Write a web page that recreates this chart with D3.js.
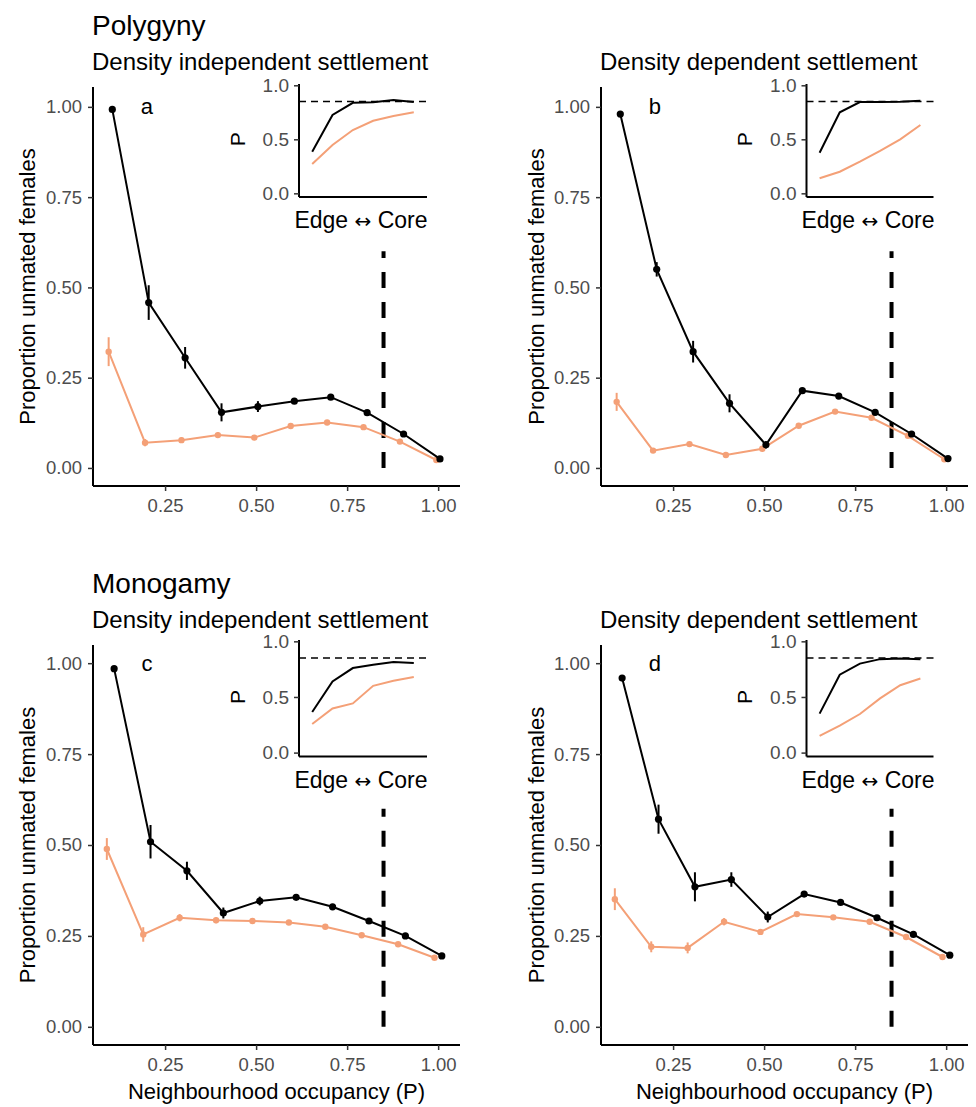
<!DOCTYPE html>
<html>
<head>
<meta charset="utf-8">
<script src="https://cdn.jsdelivr.net/npm/d3@7"></script>
<style>
  body { margin: 0; background: #fff; }
  svg { display: block; font-family: "Liberation Sans", Arial, sans-serif; }
</style>
</head>
<body>
<svg id="chart" width="976" height="1107"></svg>
<script>
// ---------- data ----------
const occupancy = [0.1, 0.2, 0.3, 0.4, 0.5, 0.6, 0.7, 0.8, 0.9, 1.0];
const xTicks = [0.25, 0.5, 0.75, 1.0];
const xTickLabels = ["0.25", "0.50", "0.75", "1.00"];
const yTicks = [0, 0.25, 0.5, 0.75, 1.0];
const yTickLabels = ["0.00", "0.25", "0.50", "0.75", "1.00"];
const insetTicks = [0, 0.5, 1.0];
const insetTickLabels = ["0.0", "0.5", "1.0"];
const insetPositions = [1, 2, 3, 4, 5, 6];
const threshold = 0.85;

const rowTitles = ["Polygyny", "Monogamy"];
const colTitles = ["Density independent settlement", "Density dependent settlement"];
const panelLetters = ["a", "b", "c", "d"];

// main panels: black series
const blackA = [0.993, 0.458, 0.305, 0.154, 0.170, 0.185, 0.196, 0.153, 0.094, 0.025];
const blackAErr = [0.008, 0.048, 0.030, 0.025, 0.015, 0.006, 0.005, 0.005, 0.005, 0.003];
const orangeA = [0.322, 0.070, 0.077, 0.091, 0.084, 0.116, 0.126, 0.113, 0.073, 0.022];
const orangeAErr = [0.040, 0.010, 0.008, 0.008, 0.005, 0.006, 0.006, 0.005, 0.005, 0.003];

const blackB = [0.980, 0.550, 0.322, 0.179, 0.064, 0.214, 0.199, 0.154, 0.094, 0.026];
const blackBErr = [0.005, 0.020, 0.030, 0.025, 0.010, 0.005, 0.005, 0.005, 0.005, 0.003];
const orangeB = [0.183, 0.048, 0.066, 0.036, 0.053, 0.117, 0.156, 0.139, 0.089, 0.024];
const orangeBErr = [0.025, 0.005, 0.005, 0.005, 0.005, 0.005, 0.005, 0.005, 0.005, 0.003];

const blackC = [0.985, 0.509, 0.429, 0.313, 0.346, 0.356, 0.330, 0.291, 0.250, 0.195];
const blackCErr = [0.005, 0.046, 0.025, 0.015, 0.012, 0.006, 0.005, 0.005, 0.005, 0.003];
const orangeC = [0.489, 0.254, 0.300, 0.293, 0.291, 0.287, 0.275, 0.252, 0.227, 0.190];
const orangeCErr = [0.030, 0.020, 0.010, 0.008, 0.005, 0.005, 0.005, 0.005, 0.005, 0.003];

const blackD = [0.959, 0.571, 0.385, 0.405, 0.302, 0.365, 0.342, 0.300, 0.254, 0.197];
const blackDErr = [0.005, 0.040, 0.040, 0.020, 0.015, 0.006, 0.005, 0.005, 0.005, 0.003];
const orangeD = [0.351, 0.220, 0.217, 0.289, 0.261, 0.310, 0.301, 0.289, 0.247, 0.192];
const orangeDErr = [0.030, 0.015, 0.015, 0.010, 0.006, 0.006, 0.005, 0.005, 0.005, 0.003];

// insets: P along edge -> core gradient
const insetBlackA = [0.385, 0.725, 0.838, 0.842, 0.864, 0.845];
const insetOrangeA = [0.271, 0.447, 0.586, 0.672, 0.716, 0.750];
const insetBlackB = [0.376, 0.750, 0.845, 0.845, 0.847, 0.857];
const insetOrangeB = [0.139, 0.200, 0.293, 0.392, 0.500, 0.632];
const insetBlackC = [0.365, 0.640, 0.760, 0.790, 0.815, 0.805];
const insetOrangeC = [0.257, 0.397, 0.442, 0.600, 0.645, 0.680];
const insetBlackD = [0.350, 0.700, 0.800, 0.840, 0.845, 0.840];
const insetOrangeD = [0.150, 0.242, 0.347, 0.487, 0.606, 0.666];

const BLACK = "#000000";
const ORANGE = "#F4A077";
const TICKGREY = "#4D4D4D";

// ---------- layout ----------
const panels = [
  { letter: panelLetters[0], x: [93, 460], y: [486, 87], yDom: [-0.05, 1.055],
    black: blackA, blackErr: blackAErr, orange: orangeA, orangeErr: orangeAErr, dodge: 0.005,
    inset: { x: [299, 427], y: [197, 84], yDom: [-0.034, 1.012], black: insetBlackA, orange: insetOrangeA } },
  { letter: panelLetters[1], x: [601, 968], y: [486, 87], yDom: [-0.05, 1.055],
    black: blackB, blackErr: blackBErr, orange: orangeB, orangeErr: orangeBErr, dodge: 0.005,
    inset: { x: [806.5, 933.5], y: [197, 84], yDom: [-0.034, 1.012], black: insetBlackB, orange: insetOrangeB } },
  { letter: panelLetters[2], x: [93, 460], y: [1045, 645], yDom: [-0.05, 1.05],
    black: blackC, blackErr: blackCErr, orange: orangeC, orangeErr: orangeCErr, dodge: 0.01,
    inset: { x: [299, 427], y: [756.5, 640], yDom: [-0.035, 1.012], black: insetBlackC, orange: insetOrangeC } },
  { letter: panelLetters[3], x: [601, 968], y: [1045, 645], yDom: [-0.05, 1.05],
    black: blackD, blackErr: blackDErr, orange: orangeD, orangeErr: orangeDErr, dodge: 0.01,
    inset: { x: [806.5, 933.5], y: [756.5, 640], yDom: [-0.035, 1.012], black: insetBlackD, orange: insetOrangeD } }
];

const svg = d3.select("#chart");

// row titles / column subtitles
const titleY = [35, 593];
const subY = [70, 628];
rowTitles.forEach((t, r) => {
  svg.append("text").attr("x", 92).attr("y", titleY[r]).attr("font-size", 28).attr("fill", "#000").text(t);
  colTitles.forEach((s, c) => {
    svg.append("text").attr("x", c === 0 ? 92 : 600).attr("y", subY[r])
      .attr("font-size", 24).attr("fill", "#000").text(s);
  });
});

panels.forEach((p, i) => {
  const col = i % 2, row = Math.floor(i / 2);
  const x = d3.scaleLinear().domain([0.052, 1.06]).range(p.x);
  const y = d3.scaleLinear().domain(p.yDom).range(p.y);
  const g = svg.append("g");

  // axes
  const xAxis = d3.axisBottom(x).tickValues(xTicks).tickFormat((d, k) => xTickLabels[k]).tickSize(5).tickPadding(6);
  const yAxis = d3.axisLeft(y).tickValues(yTicks).tickFormat((d, k) => yTickLabels[k]).tickSize(5).tickPadding(6);
  const gx = g.append("g").attr("transform", `translate(0,${p.y[0]})`).call(xAxis);
  const gy = g.append("g").attr("transform", `translate(${p.x[0]},0)`).call(yAxis);
  [gx, gy].forEach(a => {
    a.select(".domain").attr("stroke", "#000").attr("stroke-width", 2);
    a.selectAll(".tick line").attr("stroke", "#333").attr("stroke-width", 1.5);
    a.selectAll(".tick text").attr("fill", TICKGREY).attr("font-size", 18.5)
      .attr("font-family", "Liberation Sans, Arial, sans-serif");
  });
  gx.selectAll(".tick text").attr("dy", "0.8em");
  gx.select(".domain").attr("d", `M${p.x[0]},0H${p.x[1]}`);
  gy.select(".domain").attr("d", `M0,${p.y[0]}V${p.y[1]}`);

  // y title
  const ytX = col === 0 ? 27 : 536;
  const ytY = (p.y[0] + p.y[1]) / 2;
  g.append("text").attr("transform", `translate(${ytX},${ytY}) rotate(-90)`)
    .attr("text-anchor", "middle").attr("dominant-baseline", "central")
    .attr("font-size", 22).attr("fill", "#000").text("Proportion unmated females");
  if (row === 1) {
    g.append("text").attr("x", (p.x[0] + p.x[1]) / 2).attr("y", 1099)
      .attr("text-anchor", "middle").attr("font-size", 22).attr("fill", "#000")
      .text("Neighbourhood occupancy (P)");
  }

  // threshold segment
  g.append("line").attr("x1", x(threshold)).attr("x2", x(threshold))
    .attr("y1", y(0)).attr("y2", y(0.6))
    .attr("stroke", "#000").attr("stroke-width", 4).attr("stroke-dasharray", "16,14");

  // series
  const series = [
    { vals: p.orange, err: p.orangeErr, color: ORANGE, off: -p.dodge, r: 3.2 },
    { vals: p.black, err: p.blackErr, color: BLACK, off: p.dodge, r: 3.6 }
  ];
  series.forEach(s => {
    const pts = occupancy.map((o, k) => ({ o: o + s.off, v: s.vals[k], e: s.err[k] }));
    g.append("path").datum(pts)
      .attr("d", d3.line().x(d => x(d.o)).y(d => y(d.v)))
      .attr("fill", "none").attr("stroke", s.color).attr("stroke-width", 2);
    g.selectAll(null).data(pts).enter().append("line")
      .attr("x1", d => x(d.o)).attr("x2", d => x(d.o))
      .attr("y1", d => y(d.v - d.e)).attr("y2", d => y(d.v + d.e))
      .attr("stroke", s.color).attr("stroke-width", 2);
    g.selectAll(null).data(pts).enter().append("circle")
      .attr("cx", d => x(d.o)).attr("cy", d => y(d.v)).attr("r", s.r).attr("fill", s.color);
  });

  // panel letter
  g.append("text").attr("x", x(0.2)).attr("y", y(1.0))
    .attr("text-anchor", "middle").attr("dominant-baseline", "central")
    .attr("font-size", 22).attr("fill", "#000").text(p.letter);

  // inset
  const ins = p.inset;
  const ix = d3.scaleLinear().domain([0.35, 6.65]).range(ins.x);
  const iy = d3.scaleLinear().domain(ins.yDom).range(ins.y);
  const ig = g.append("g");
  const iyAxis = d3.axisLeft(iy).tickValues(insetTicks).tickFormat((d, k) => insetTickLabels[k]).tickSize(5).tickPadding(5);
  const giy = ig.append("g").attr("transform", `translate(${ins.x[0]},0)`).call(iyAxis);
  giy.select(".domain").attr("d", `M0,${ins.y[0]}V${ins.y[1]}`).attr("stroke", "#000").attr("stroke-width", 2);
  giy.selectAll(".tick line").attr("stroke", "#333").attr("stroke-width", 1.5);
  giy.selectAll(".tick text").attr("fill", TICKGREY).attr("font-size", 19)
    .attr("font-family", "Liberation Sans, Arial, sans-serif");
  ig.append("line").attr("x1", ins.x[0]).attr("x2", ins.x[1]).attr("y1", ins.y[0]).attr("y2", ins.y[0])
    .attr("stroke", "#000").attr("stroke-width", 2);
  ig.append("line").attr("x1", ins.x[0]).attr("x2", ins.x[1]).attr("y1", iy(threshold)).attr("y2", iy(threshold))
    .attr("stroke", "#000").attr("stroke-width", 1.6).attr("stroke-dasharray", "7,5");
  [{ v: ins.orange, c: ORANGE }, { v: ins.black, c: BLACK }].forEach(s => {
    ig.append("path").datum(insetPositions.map((q, k) => [q, s.v[k]]))
      .attr("d", d3.line().x(d => ix(d[0])).y(d => iy(d[1])))
      .attr("fill", "none").attr("stroke", s.c).attr("stroke-width", 2);
  });
  ig.append("text").attr("transform", `translate(${ins.x[0] - 62},${iy(0.5)}) rotate(-90)`)
    .attr("text-anchor", "middle").attr("dominant-baseline", "central")
    .attr("font-size", 21).attr("fill", "#000").text("P");
  const et = ig.append("text").attr("x", (ins.x[0] + ins.x[1]) / 2 - 2).attr("y", ins.y[0] + 31)
    .attr("text-anchor", "middle").attr("font-size", 23).attr("fill", "#000");
  et.append("tspan").text("Edge ");
  et.append("tspan").attr("font-family", "DejaVu Sans").attr("font-size", 20).text("\u2194");
  et.append("tspan").text(" Core");
});
</script>
</body>
</html>
